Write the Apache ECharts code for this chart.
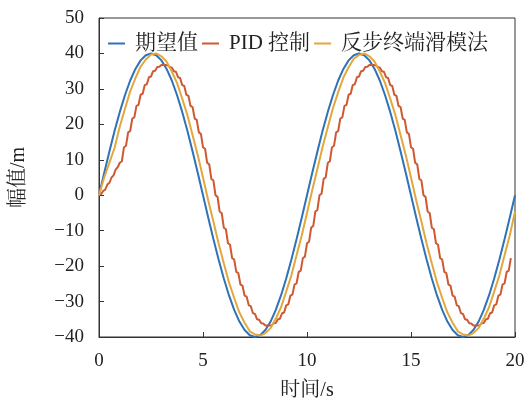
<!DOCTYPE html>
<html>
<head>
<meta charset="utf-8">
<script src="https://cdn.jsdelivr.net/npm/echarts@6/dist/echarts.min.js"></script>
<style>
html,body{margin:0;padding:0;background:#fff;}
#chart{width:526px;height:403px;}
</style>
</head>
<body>
<div id="chart"></div>
<script>
// Series names
const seriesNames = ['期望值', 'PID 控制', '反步终端滑模法'];

// Sampling steps (seconds)
const stepBlue = 0.25;
const stepOrange = 0.25;
const stepRed = 0.1;

// 期望值 (t = 0 … 20, every 0.25 s)
const desiredValues = [
  0, 6.26, 12.36, 18.16, 23.51, 28.28, 32.36, 35.64, 38.04, 39.51,
  40, 39.51, 38.04, 35.64, 32.36, 28.28, 23.51, 18.16, 12.36, 6.26,
  0, -6.26, -12.36, -18.16, -23.51, -28.28, -32.36, -35.64, -38.04, -39.51,
  -40, -39.51, -38.04, -35.64, -32.36, -28.28, -23.51, -18.16, -12.36, -6.26,
  0, 6.26, 12.36, 18.16, 23.51, 28.28, 32.36, 35.64, 38.04, 39.51,
  40, 39.51, 38.04, 35.64, 32.36, 28.28, 23.51, 18.16, 12.36, 6.26,
  0, -6.26, -12.36, -18.16, -23.51, -28.28, -32.36, -35.64, -38.04, -39.51,
  -40, -39.51, -38.04, -35.64, -32.36, -28.28, -23.51, -18.16, -12.36, -6.26,
  0
];

// 反步终端滑模法 (t = 0 … 20, every 0.25 s)
const smcValues = [
  0, 5.0, 9.2, 13.4, 19.4, 24.4, 29.3, 33.0, 36.3, 38.3,
  39.7, 40.0, 39.2, 37.7, 34.9, 31.7, 27.3, 22.6, 16.9, 11.3,
  5.0, -1.4, -7.4, -13.6, -19.2, -24.6, -29.0, -33.1, -36.0, -38.4,
  -39.3, -39.6, -38.9, -37.5, -34.8, -31.6, -27.2, -22.6, -16.9, -11.3,
  -5.0, 1.4, 7.4, 13.6, 19.2, 24.6, 29.1, 33.2, 36.1, 38.5,
  39.6, 40.0, 39.2, 37.7, 34.9, 31.7, 27.3, 22.6, 16.9, 11.3,
  5.0, -1.4, -7.4, -13.6, -19.2, -24.6, -29.0, -33.1, -36.0, -38.4,
  -39.3, -39.6, -38.9, -37.5, -34.8, -31.6, -27.2, -22.6, -16.9, -11.3,
  -4.6
];

// PID 控制 (t = 0 … 19.8, every 0.1 s)
const pidValues = [
  0, 0.3, 1.2, 1.6, 3.0, 3.5, 5.0, 5.6, 7.2, 7.9,
  9.15, 9.59, 13.55, 13.97, 17.73, 18.13, 21.63, 22.00, 25.19, 25.52,
  28.35, 28.63, 31.07, 31.31, 33.30, 33.48, 35.00, 35.13, 36.15, 36.22,
  36.73, 36.74, 36.73, 36.69, 36.15, 36.05, 35.00, 34.84, 33.30, 33.09,
  31.07, 30.81, 28.35, 28.05, 25.19, 24.84, 21.63, 21.25, 17.73, 17.32,
  13.55, 13.11, 9.15, 8.70, 4.61, 4.15, 0, -0.46, -4.61, -5.07,
  -9.15, -9.59, -13.55, -13.97, -17.73, -18.13, -21.63, -22.00, -25.19, -25.52,
  -28.35, -28.63, -31.07, -31.31, -33.30, -33.48, -35.00, -35.13, -36.15, -36.22,
  -36.73, -36.74, -36.73, -36.69, -36.15, -36.05, -35.00, -34.84, -33.30, -33.09,
  -31.07, -30.81, -28.35, -28.05, -25.19, -24.84, -21.63, -21.25, -17.73, -17.32,
  -13.55, -13.11, -9.15, -8.70, -4.61, -4.15, 0, 0.46, 4.61, 5.07,
  9.15, 9.59, 13.55, 13.97, 17.73, 18.13, 21.63, 22.00, 25.19, 25.52,
  28.35, 28.63, 31.07, 31.31, 33.30, 33.48, 35.00, 35.13, 36.15, 36.22,
  36.73, 36.74, 36.73, 36.69, 36.15, 36.05, 35.00, 34.84, 33.30, 33.09,
  31.07, 30.81, 28.35, 28.05, 25.19, 24.84, 21.63, 21.25, 17.73, 17.32,
  13.55, 13.11, 9.15, 8.70, 4.61, 4.15, 0, -0.46, -4.61, -5.07,
  -9.15, -9.59, -13.55, -13.97, -17.73, -18.13, -21.63, -22.00, -25.19, -25.52,
  -28.35, -28.63, -31.07, -31.31, -33.30, -33.48, -35.00, -35.13, -36.15, -36.22,
  -36.73, -36.74, -36.73, -36.69, -36.15, -36.05, -35.00, -34.84, -33.30, -33.09,
  -31.07, -30.81, -28.35, -28.05, -25.19, -24.84, -21.63, -21.25, -17.73
];

// Axis settings
const xMin = 0, xMax = 20, xInterval = 5;
const yMin = -40, yMax = 50, yInterval = 10;
const xAxisName = '时间/s';
const yAxisName = '幅值/m';

function pairs(values, step) {
  return values.map((v, i) => [Math.round(i * step * 1000) / 1000, v]);
}
function minusFmt(v) { return String(v).replace('-', '\u2212'); }

const serifFont = "'Liberation Serif','Noto Serif CJK SC','Noto Sans CJK SC',serif";
const colors = ['#2e72b8', '#cd5a32', '#e3a73f'];

const chart = echarts.init(document.getElementById('chart'), null, {renderer: 'canvas'});
chart.setOption({
  animation: false,
  backgroundColor: '#fff',
  color: colors,
  grid: {
    left: 99, right: 11, top: 18, bottom: 66,
    containLabel: false, outerBoundsMode: 'none',
    show: true, borderColor: '#333', borderWidth: 1, backgroundColor: 'transparent'
  },
  legend: {
    left: 103, top: 28,
    icon: 'rect',
    itemWidth: 17, itemHeight: 2, itemGap: 4,
    textStyle: {fontFamily: serifFont, fontSize: 21, color: '#222', padding: [0, 0, 0, 5]},
    data: seriesNames
  },
  xAxis: {
    type: 'value', min: xMin, max: xMax, interval: xInterval,
    name: xAxisName, nameLocation: 'middle', nameGap: 44,
    nameTextStyle: {fontFamily: serifFont, fontSize: 20, color: '#222'},
    axisLine: {show: true, onZero: false, lineStyle: {color: '#333', width: 1}},
    axisTick: {show: true, inside: true, length: 5, lineStyle: {color: '#333'}},
    axisLabel: {fontFamily: serifFont, fontSize: 19, color: '#222', margin: 15},
    splitLine: {show: false}
  },
  yAxis: {
    type: 'value', min: yMin, max: yMax, interval: yInterval,
    name: yAxisName, nameLocation: 'middle', nameGap: 70, nameRotate: 90,
    nameTextStyle: {fontFamily: serifFont, fontSize: 20, color: '#222'},
    axisLine: {show: true, onZero: false, lineStyle: {color: '#333', width: 1}},
    axisTick: {show: true, inside: true, length: 5, lineStyle: {color: '#333'}},
    axisLabel: {fontFamily: serifFont, fontSize: 19, color: '#222', margin: 15, formatter: minusFmt},
    splitLine: {show: false}
  },
  series: [
    {name: seriesNames[0], type: 'line', symbol: 'none', smooth: false,
     lineStyle: {width: 2}, data: pairs(desiredValues, stepBlue)},
    {name: seriesNames[1], type: 'line', symbol: 'none', smooth: false,
     lineStyle: {width: 2}, data: pairs(pidValues, stepRed)},
    {name: seriesNames[2], type: 'line', symbol: 'none', smooth: false,
     lineStyle: {width: 2}, data: pairs(smcValues, stepOrange)}
  ]
});
</script>
</body>
</html>
